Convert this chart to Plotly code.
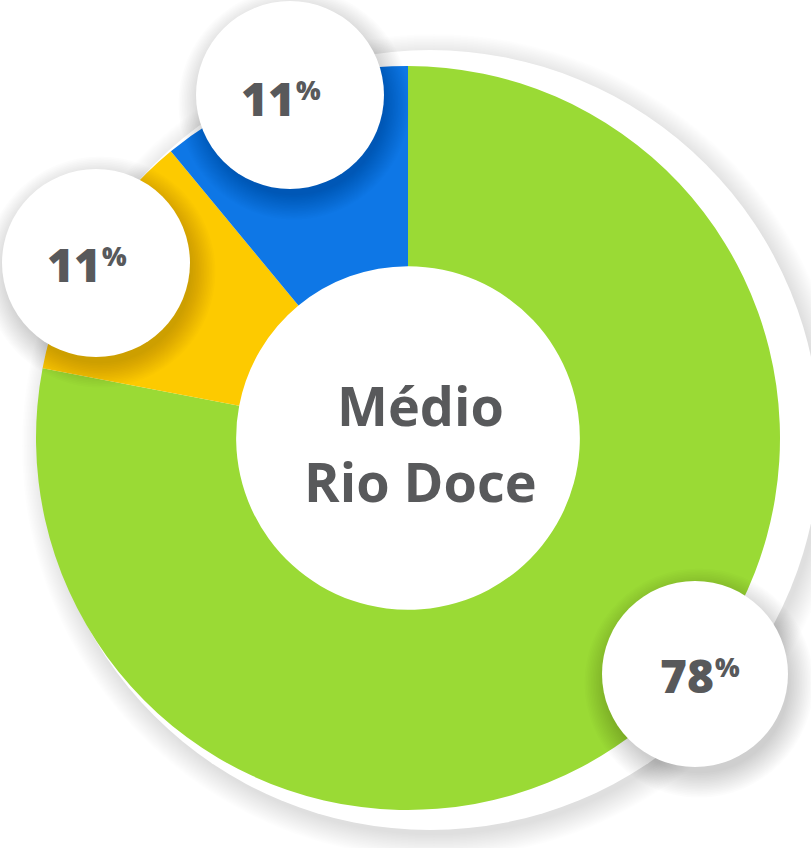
import plotly.graph_objects as go

W, H = 811, 848

labels = ["Médio Rio Doce A", "Médio Rio Doce B", "Médio Rio Doce C"]
values = [78, 11, 11]
colors = ["#9ADA35", "#FDCA00", "#0E77E6"]
pct_text = ["78", "11", "11"]
center_lines = ["Médio", "Rio Doce"]

TXT = "#58595B"
FONT = "Open Sans"


def px(x):
    return x / W


def py(y):
    return 1 - y / H


def circle(cx, cy, r, color, opacity=1.0, layer="above"):
    return dict(type="circle", xref="paper", yref="paper",
                x0=px(cx - r), x1=px(cx + r), y0=py(cy + r), y1=py(cy - r),
                fillcolor=color, opacity=opacity, line=dict(width=0), layer=layer)


fig = go.Figure()
fig.add_trace(go.Pie(
    labels=labels, values=values, sort=False, direction="clockwise", rotation=0,
    hole=0.462, marker=dict(colors=colors, line=dict(width=0)),
    textinfo="none", hoverinfo="skip", showlegend=False,
    domain=dict(x=[px(36), px(780)], y=[py(810), py(66)]),
))

shapes = []
# backdrop white disk with soft shadow
for k in range(16, 0, -1):
    shapes.append(circle(434, 446, 388 + k * 1.5, "#000000", 0.008, "below"))
shapes.append(circle(430, 440, 390, "#FFFFFF", 1.0, "below"))

# label bubbles with soft shadows
bubbles = [(695, 674, 93), (96, 263, 94), (290, 95, 94)]
for (cx, cy, r) in bubbles:
    for k in range(16, 0, -1):
        shapes.append(circle(cx + 4, cy + 9, r - 4 + k * 1.6, "#000000", 0.011, "above"))
    shapes.append(circle(cx, cy, r, "#FFFFFF", 1.0, "above"))

annotations = []
# center text
annotations.append(dict(x=px(420), y=py(405), xref="paper", yref="paper",
                        text=center_lines[0], showarrow=False,
                        xanchor="center", yanchor="middle",
                        font=dict(family=FONT, size=54, color=TXT, weight=700)))
annotations.append(dict(x=px(420), y=py(481), xref="paper", yref="paper",
                        text=center_lines[1], showarrow=False,
                        xanchor="center", yanchor="middle",
                        font=dict(family=FONT, size=54, color=TXT, weight=700)))

# percentage labels: number right edge, % left
label_pos = [(712, 675), (99, 264), (293, 98)]
for (xr, ym), t in zip(label_pos, pct_text):
    annotations.append(dict(x=px(xr + 4), y=py(ym), xref="paper", yref="paper",
                            text=t, showarrow=False,
                            xanchor="right", yanchor="middle",
                            font=dict(family=FONT, size=46, color=TXT, weight=800)))
    annotations.append(dict(x=px(xr + 1), y=py(ym - 8), xref="paper", yref="paper",
                            text="%", showarrow=False,
                            xanchor="left", yanchor="middle",
                            font=dict(family=FONT, size=26, color=TXT, weight=800)))

fig.update_layout(width=W, height=H, margin=dict(l=0, r=0, t=0, b=0),
                  paper_bgcolor="#FFFFFF", plot_bgcolor="#FFFFFF",
                  shapes=shapes, annotations=annotations)

fig.write_html("out.html")
